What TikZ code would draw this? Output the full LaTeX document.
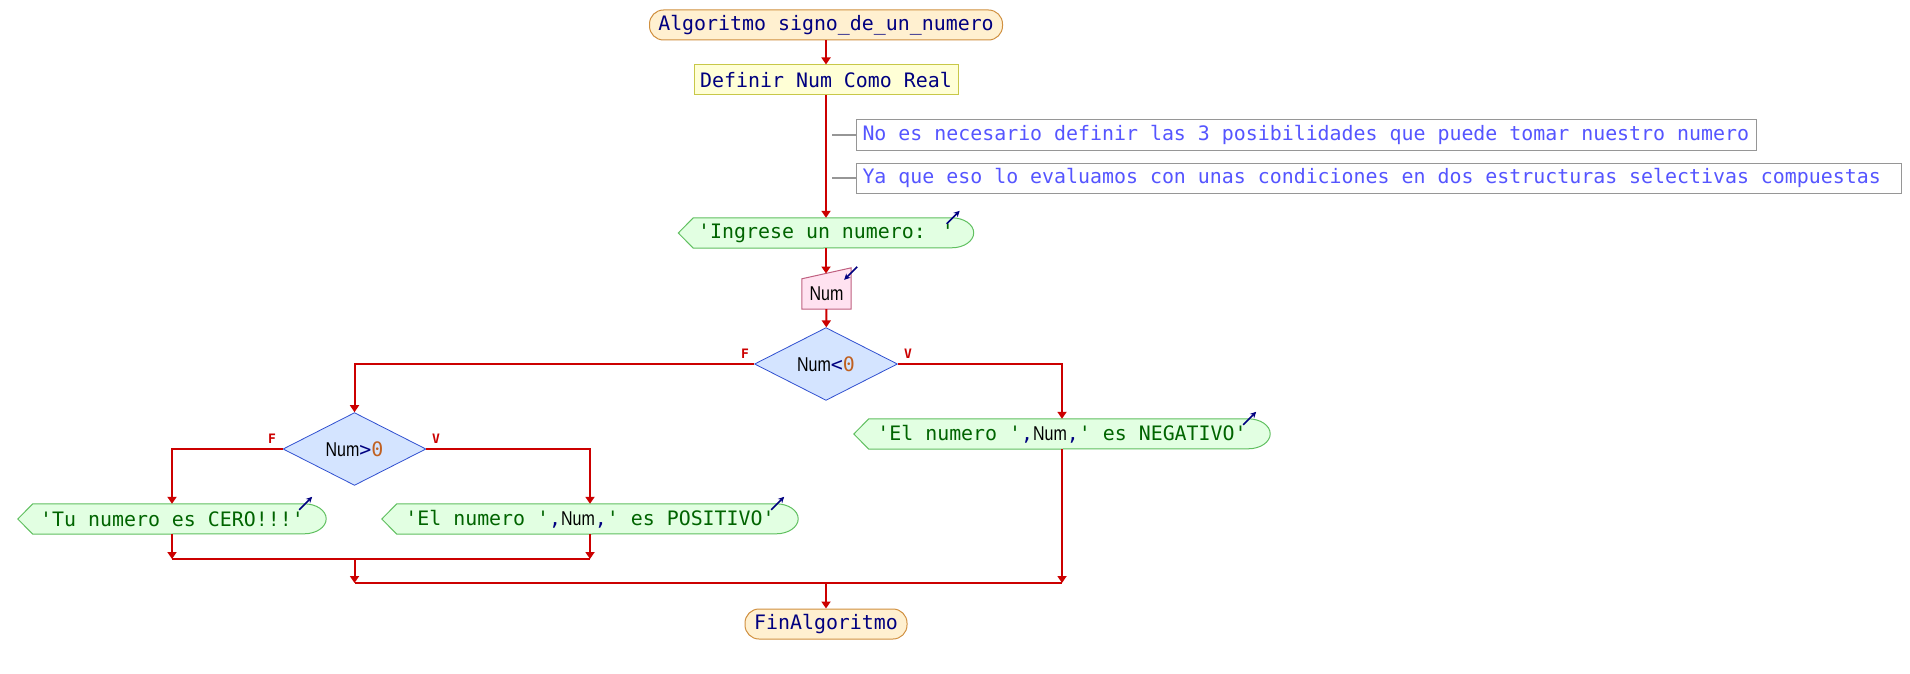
\documentclass[tikz,border=0pt]{standalone}
\usepackage{fontspec}
\usetikzlibrary{arrows.meta,shapes.geometric,calc,backgrounds}
\newfontfamily\monof{DejaVu Sans Mono}
\newfontfamily\numfont[FakeStretch=0.8]{Liberation Sans}
\definecolor{navy}{RGB}{0,0,128}
\definecolor{termF}{RGB}{255,240,208}
\definecolor{termB}{RGB}{208,144,64}
\definecolor{defF}{RGB}{255,255,214}
\definecolor{defB}{RGB}{200,200,72}
\definecolor{comB}{RGB}{150,150,150}
\definecolor{comT}{RGB}{85,85,255}
\definecolor{outF}{RGB}{226,255,226}
\definecolor{outB}{RGB}{96,192,96}
\definecolor{outT}{RGB}{0,100,0}
\definecolor{inF}{RGB}{255,226,240}
\definecolor{inB}{RGB}{192,96,128}
\definecolor{decF}{RGB}{212,228,255}
\definecolor{decB}{RGB}{48,80,208}
\definecolor{flowR}{RGB}{204,0,0}
\definecolor{zeroC}{RGB}{192,96,32}
\newcommand{\mf}{\monof\fontsize{19.9}{24}\selectfont}
\newcommand{\nf}{\numfont\fontsize{20}{24}\selectfont}
\newcommand{\sv}{\textcolor{navy}{,}\textcolor{black}{\nf Num}\textcolor{navy}{,}}
\tikzset{
  base/.style={inner sep=0pt, font=\mf},
  terminal/.style={base, draw=termB, fill=termF, rounded corners=14pt, minimum height=30pt, line width=1pt, text=navy},
  defbox/.style={base, draw=defB, fill=defF, minimum height=30pt, line width=1pt, text=navy},
  comment/.style={base, draw=comB, fill=white, minimum height=30pt, inner xsep=6pt, text=comT, anchor=west, line width=1pt},
  outnode/.style={base, minimum height=30pt, text=outT},
  innode/.style={base, minimum width=49pt, minimum height=30pt, text=black},
  decision/.style={diamond, draw=decB, fill=decF, inner sep=0pt, minimum width=143pt, minimum height=60pt, line width=0.8pt, font=\mf},
  outline/.style={draw=outB, fill=outF, line width=1pt},
  inline/.style={draw=inB, fill=inF, line width=1pt},
  flow/.style={draw=flowR, line width=2pt, -{Triangle[width=9pt,length=7pt]}},
  plainflow/.style={draw=flowR, line width=2pt},
  cline/.style={draw=comB, line width=2pt},
  icon/.style={draw=navy, line width=1.6pt, -{Stealth[width=6pt,length=6pt]}},
  fv/.style={text=flowR, font=\monof\bfseries\fontsize{13}{13}\selectfont, inner sep=0pt}
}
\newcommand{\outshape}[1]{%
  \begin{pgfonlayer}{background}
  \draw[outline] (#1.west) -- ($(#1.north west)+(15,0)$) -- ($(#1.north east)+(-22,0)$)
     arc[start angle=90,end angle=-90,x radius=22,y radius=15] -- ($(#1.south west)+(15,0)$) -- cycle;
  \end{pgfonlayer}}
\newcommand{\outicon}[1]{\draw[icon] ($(#1.north east)+(-27,-6)$) -- ($(#1.north east)+(-14,7)$);}
\begin{document}
\begin{tikzpicture}[x=1pt,y=1pt]
\useasboundingbox (0,0) rectangle (1910,-674);
\begin{pgfonlayer}{background}
\fill[white] (0,0) rectangle (1910,-674);
\end{pgfonlayer}
% nodes
\node[terminal, minimum width=353pt] (start) at (826,-25) {Algoritmo signo\_de\_un\_numero};
\node[defbox, minimum width=264pt] (def) at (826,-80) {Definir Num Como Real};
\node[comment] (com1) at (856,-135) {\makebox[888pt][l]{\mf No es necesario definir las 3 posibilidades que puede tomar nuestro numero}};
\node[comment] (com2) at (856,-178) {\makebox[1033pt][l]{\mf Ya que eso lo evaluamos con unas condiciones en dos estructuras selectivas compuestas}};
\coordinate (c1) at (832,-135);
\coordinate (c2) at (832,-178);
\node[outnode, minimum width=295pt] (ingr) at (826,-233) {'Ingrese un numero: '};
\node[innode] (num) at (826.5,-294) {\nf Num};
\coordinate (numtop) at (826,-273.5);
\node[decision] (d1) at (826,-364) {{\nf Num}\textcolor{navy}{<}\textcolor{zeroC}{0}};
\node[decision] (d2) at (354.5,-449) {{\nf Num}\textcolor{navy}{>}\textcolor{zeroC}{0}};
\node[outnode, minimum width=416pt] (neg) at (1062,-434) {'El numero '\sv' es NEGATIVO'};
\node[outnode, minimum width=308pt] (tu) at (172,-519) {'Tu numero es CERO!!!'};
\node[outnode, minimum width=416pt] (pos) at (590,-519) {'El numero '\sv' es POSITIVO'};
\node[terminal, minimum width=162pt] (fin) at (826,-624) {FinAlgoritmo};
\coordinate (m1L) at (172,-559);
\coordinate (m1R) at (590,-559);
\coordinate (m1C) at (354.5,-559);
\coordinate (m2C) at (354.5,-583);
\coordinate (m2R) at (1062,-583);
\coordinate (m2M) at (826,-583);
% shapes
\outshape{ingr}\outshape{neg}\outshape{tu}\outshape{pos}
\begin{pgfonlayer}{background}
\draw[inline] (num.south west) -- (num.north west) -- ($(num.north east)+(0,11)$) -- (num.south east) -- cycle;
\end{pgfonlayer}
% icons
\outicon{ingr}\outicon{neg}\outicon{tu}\outicon{pos}
\draw[icon] ($(num.north east)+(6,12)$) -- ($(num.north east)+(-7,-1)$);
% connectors
\draw[flow] (start) -- (def);
\draw[flow] (def) -- (ingr);
\draw[cline] (c1) -- (com1.west);
\draw[cline] (c2) -- (com2.west);
\draw[flow] (ingr) -- (numtop);
\draw[flow] (num) -- (d1);
\draw[flow] (d1.west) -| (d2.north);
\draw[flow] (d1.east) -| (neg.north);
\draw[flow] (d2.west) -| (tu.north);
\draw[flow] (d2.east) -| (pos.north);
\draw[flow] (tu) -- (m1L);
\draw[flow] (pos) -- (m1R);
\draw[plainflow] (m1L) -- (m1R);
\draw[flow] (m1C) -- (m2C);
\draw[flow] (neg) -- (m2R);
\draw[plainflow] (m2C) -- (m2R);
\draw[flow] (m2M) -- (fin);
% labels
\node[fv] (f1) at (745,-354) {F};
\node[fv] (v1) at (908,-354) {V};
\node[fv] (f2) at (272,-439) {F};
\node[fv] (v2) at (436,-439) {V};
\end{tikzpicture}
\end{document}
